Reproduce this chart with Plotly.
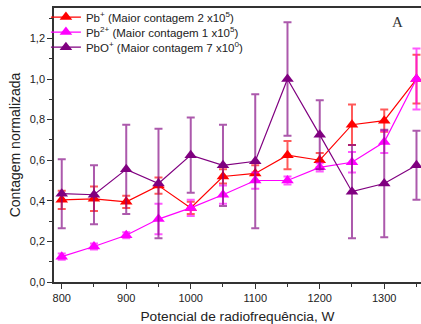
import plotly.graph_objects as go

# RF power (W)
power = [800, 850, 900, 950, 1000, 1050, 1100, 1150, 1200, 1250, 1300, 1350]

# Normalized counts and their uncertainties
pb1 = [0.405, 0.41, 0.395, 0.475, 0.365, 0.52, 0.535, 0.625, 0.60, 0.775, 0.795, 1.0]
pb1_err = [0.045, 0.06, 0.03, 0.04, 0.03, 0.035, 0.04, 0.07, 0.035, 0.10, 0.055, 0.12]

pb2 = [0.125, 0.175, 0.23, 0.31, 0.365, 0.43, 0.50, 0.50, 0.565, 0.59, 0.69, 1.0]
pb2_err = [0.015, 0.015, 0.015, 0.075, 0.04, 0.045, 0.04, 0.02, 0.02, 0.05, 0.055, 0.15]

pbo = [0.435, 0.43, 0.555, 0.485, 0.625, 0.575, 0.595, 1.0, 0.725, 0.445, 0.485, 0.575]
pbo_err = [0.17, 0.145, 0.22, 0.27, 0.185, 0.20, 0.33, 0.28, 0.17, 0.23, 0.265, 0.17]

names = [
    "Pb<sup>+</sup> (Maior contagem 2 x10<sup>5</sup>)",
    "Pb<sup>2+</sup> (Maior contagem 1 x10<sup>5</sup>)",
    "PbO<sup>+</sup> (Maior contagem 7 x10<sup>0</sup>)",
]
series = [pb1, pb2, pbo]
errors = [pb1_err, pb2_err, pbo_err]
colors = ["#ff0000", "#ff00ff", "#800080"]
err_colors = ["rgba(255,0,0,0.65)", "rgba(255,0,255,0.65)", "rgba(128,0,128,0.65)"]
legend_ids = ["legend", "legend2", "legend3"]
legend_rows = [0.967, 0.912, 0.857]

fig = go.Figure()
for name, y, e, c, ec, lg in zip(names, series, errors, colors, err_colors, legend_ids):
    fig.add_trace(go.Scatter(
        x=power, y=y, name=name, mode="lines+markers",
        line=dict(color=c, width=1.2),
        marker=dict(symbol="triangle-up", size=11, color=c),
        error_y=dict(type="data", array=e, visible=True,
                     color=ec, thickness=2, width=4),
        cliponaxis=False,
        legend=lg,
    ))

fig.add_annotation(
    x=0.935, y=0.985, xref="paper", yref="paper",
    text="A", showarrow=False, xanchor="center", yanchor="top",
    font=dict(family="Liberation Serif", size=15, color="#333333"),
)

legend_style = dict(
    x=-0.022, xanchor="left", yanchor="middle",
    bgcolor="rgba(0,0,0,0)", borderwidth=0,
    font=dict(size=11.5, color="#222222"),
    itemwidth=30,
)

fig.update_layout(
    width=421, height=324,
    margin=dict(l=54, r=0, t=8, b=42),
    paper_bgcolor="white", plot_bgcolor="white",
    font=dict(family="Liberation Sans, Arial", color="#222222"),
    showlegend=True,
    legend=dict(y=legend_rows[0], **legend_style),
    legend2=dict(y=legend_rows[1], **legend_style),
    legend3=dict(y=legend_rows[2], **legend_style),
    xaxis=dict(
        range=[788, 1357],
        tickvals=[800, 900, 1000, 1100, 1200, 1300],
        ticktext=["800", "900", "1000", "1100", "1200", "1300"],
        ticks="outside", ticklen=5, tickwidth=1, tickcolor="#333333",
        minor=dict(ticks="outside", ticklen=3, dtick=50, tick0=800, tickcolor="#333333"),
        showline=True, linecolor="#333333", linewidth=1.5, mirror=True,
        showgrid=False, zeroline=False,
        tickfont=dict(size=11),
        title=dict(text="Potencial de radiofrequência, W", font=dict(size=13.7), standoff=8),
    ),
    yaxis=dict(
        range=[0, 1.35],
        tickvals=[0, 0.2, 0.4, 0.6, 0.8, 1.0, 1.2],
        ticktext=["0,0", "0,2", "0,4", "0,6", "0,8", "1,0", "1,2"],
        ticks="outside", ticklen=5, tickwidth=1, tickcolor="#333333",
        minor=dict(ticks="outside", ticklen=3, dtick=0.1, tick0=0, tickcolor="#333333"),
        showline=True, linecolor="#333333", linewidth=1.5, mirror=False,
        showgrid=False, zeroline=False,
        tickfont=dict(size=11),
        title=dict(text="Contagem normalizada", font=dict(size=14), standoff=6),
    ),
)

fig.write_html("out.html")
